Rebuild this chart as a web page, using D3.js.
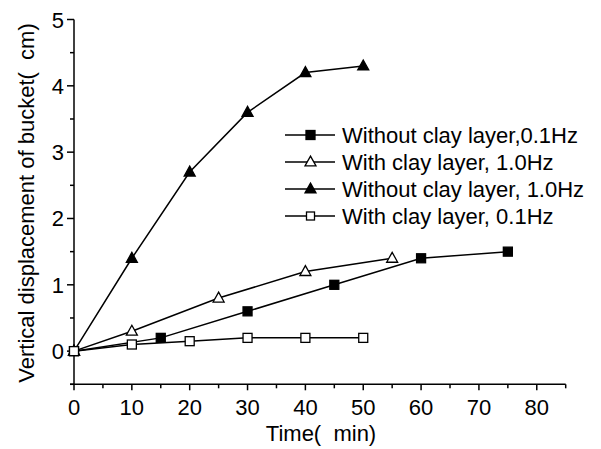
<!DOCTYPE html>
<html>
<head>
<meta charset="utf-8">
<script src="https://cdn.jsdelivr.net/npm/d3@7.9.0/dist/d3.min.js"></script>
<style>
  body { margin: 0; background: #fff; }
  svg { font-family: "Liberation Sans", Arial, sans-serif; }
</style>
</head>
<body>
<svg width="601" height="449"></svg>
<script>
// data
const seriesNames = [
  "Without clay layer,0.1Hz",
  "With clay layer, 1.0Hz",
  "Without clay layer, 1.0Hz",
  "With clay layer, 0.1Hz"
];
const timeA = [0, 15, 30, 45, 60, 75];
const dispA = [0, 0.2, 0.6, 1.0, 1.4, 1.5];
const timeB = [0, 10, 25, 40, 55];
const dispB = [0, 0.3, 0.8, 1.2, 1.4];
const timeC = [0, 10, 20, 30, 40, 50];
const dispC = [0, 1.4, 2.7, 3.6, 4.2, 4.3];
const timeD = [0, 10, 20, 30, 40, 50];
const dispD = [0, 0.1, 0.15, 0.2, 0.2, 0.2];
const xTicks = [0, 10, 20, 30, 40, 50, 60, 70, 80];
const yTicks = [0, 1, 2, 3, 4, 5];

const series = [
  { name: seriesNames[0], t: timeA, v: dispA, shape: "square", fill: "#000" },
  { name: seriesNames[1], t: timeB, v: dispB, shape: "triangle", fill: "#fff" },
  { name: seriesNames[2], t: timeC, v: dispC, shape: "triangle", fill: "#000" },
  { name: seriesNames[3], t: timeD, v: dispD, shape: "square", fill: "#fff" }
];

const fs = 22;
const svg = d3.select("svg");
const x = d3.scaleLinear().domain([0, 85]).range([74, 565.7]);
const y = d3.scaleLinear().domain([-0.5, 5]).range([384.3, 19.5]);

// x axis
const xAxis = svg.append("g").attr("transform", `translate(0,${y(-0.5)})`);
xAxis.append("line").attr("x1", x(0) - 4).attr("x2", x(85))
  .attr("stroke", "#000").attr("stroke-width", 1.5);
xAxis.selectAll(".minor").data(d3.range(5, 90, 10)).enter().append("line")
  .attr("x1", d => x(d)).attr("x2", d => x(d)).attr("y1", 0).attr("y2", 4)
  .attr("stroke", "#000").attr("stroke-width", 1.5);
xAxis.selectAll(".major").data(xTicks).enter().append("line")
  .attr("x1", d => x(d)).attr("x2", d => x(d)).attr("y1", 0).attr("y2", 6)
  .attr("stroke", "#000").attr("stroke-width", 1.5);
xAxis.selectAll("text").data(xTicks).enter().append("text")
  .attr("x", d => x(d)).attr("y", 31).attr("text-anchor", "middle")
  .attr("font-size", fs).text(d => d);

// y axis
const yAxis = svg.append("g").attr("transform", `translate(${x(0)},0)`);
yAxis.append("line").attr("y1", y(-0.5)).attr("y2", y(5))
  .attr("stroke", "#000").attr("stroke-width", 1.5);
yAxis.selectAll(".minor").data([-0.5, 0.5, 1.5, 2.5, 3.5, 4.5]).enter().append("line")
  .attr("y1", d => y(d)).attr("y2", d => y(d)).attr("x1", 0).attr("x2", -4)
  .attr("stroke", "#000").attr("stroke-width", 1.5);
yAxis.selectAll(".major").data(yTicks).enter().append("line")
  .attr("y1", d => y(d)).attr("y2", d => y(d)).attr("x1", 0).attr("x2", -7)
  .attr("stroke", "#000").attr("stroke-width", 1.5);
yAxis.selectAll("text").data(yTicks).enter().append("text")
  .attr("x", -10).attr("y", d => y(d) + 8).attr("text-anchor", "end")
  .attr("font-size", fs).text(d => d);

// axis titles
svg.append("text").attr("x", 321).attr("y", 441).attr("text-anchor", "middle")
  .attr("font-size", fs).attr("xml:space", "preserve").text("Time(  min)");
svg.append("text").attr("transform", "translate(34,203) rotate(-90)")
  .attr("text-anchor", "middle").attr("font-size", fs)
  .attr("xml:space", "preserve").text("Vertical displacement of bucket(  cm)");

function marker(g, shape, fill, cx, cy, s) {
  if (shape === "square") {
    g.append("rect").attr("x", cx - s / 2).attr("y", cy - s / 2)
      .attr("width", s).attr("height", s)
      .attr("fill", fill).attr("stroke", "#000").attr("stroke-width", 1.3);
  } else {
    const h = s * 0.9;
    g.append("path")
      .attr("d", `M${cx},${cy - h * 0.6}L${cx + s / 2},${cy + h * 0.4}L${cx - s / 2},${cy + h * 0.4}Z`)
      .attr("fill", fill).attr("stroke", "#000").attr("stroke-width", 1.3);
  }
}

const line = d3.line().x(d => x(d[0])).y(d => y(d[1]));

series.forEach(s => {
  const pts = s.t.map((t, i) => [t, s.v[i]]);
  const g = svg.append("g");
  g.append("path").attr("d", line(pts)).attr("fill", "none")
    .attr("stroke", "#000").attr("stroke-width", 1.5);
  pts.forEach(p => marker(g, s.shape, s.fill, x(p[0]), y(p[1]), s.shape === "square" ? 9 : 11));
});

// legend
const legend = svg.append("g");
series.forEach((s, i) => {
  const ly = 135 + i * 27;
  legend.append("line").attr("x1", 285).attr("x2", 335).attr("y1", ly).attr("y2", ly)
    .attr("stroke", "#000").attr("stroke-width", 1.5);
  marker(legend, s.shape, s.fill, 310.5, ly, s.shape === "square" ? (s.fill === "#000" ? 9 : 8) : 11);
  legend.append("text").attr("x", 342).attr("y", ly + 8).attr("font-size", fs).text(s.name);
});
</script>
</body>
</html>
